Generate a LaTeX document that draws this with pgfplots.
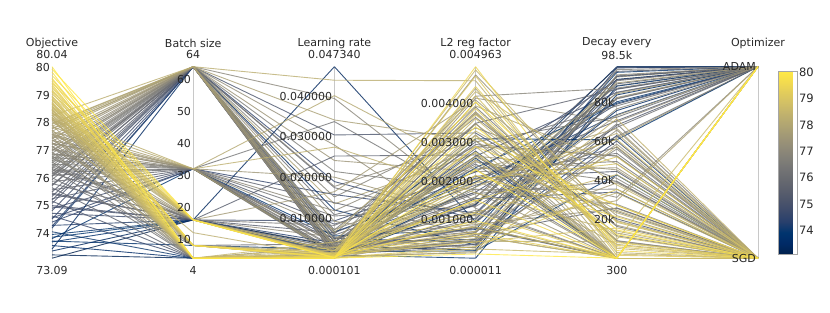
\documentclass[border=0pt]{standalone}
\usepackage{pgfplots}
\usepackage{pgfplotstable}
\pgfplotsset{compat=1.18}
\usepackage{fontspec}
\setmainfont{DejaVu Sans}

\pgfplotsset{colormap={cividis}{
 rgb255=(0,32,76) rgb255=(0,42,102) rgb255=(0,52,110) rgb255=(39,63,108)
 rgb255=(60,74,107) rgb255=(76,85,107) rgb255=(91,95,109) rgb255=(104,106,112)
 rgb255=(117,117,117) rgb255=(131,129,120) rgb255=(146,140,120) rgb255=(161,152,118)
 rgb255=(176,165,114) rgb255=(192,177,109) rgb255=(209,191,102) rgb255=(225,204,92)
 rgb255=(243,219,79) rgb255=(255,233,69)}}

\definecolor{txt}{RGB}{40,40,40}
\definecolor{axln}{RGB}{200,200,200}

% columns: objective, batch size, learning rate, L2 reg factor, decay every, optimizer (1 = ADAM, 0 = SGD)
\pgfplotstableread{
obj bs lr l2 dec opt
77.95 64 0.00240 0.00198 84600 1
77.88 64 0.01350 0.00272 300 0
77.78 64 0.00410 0.00112 61900 1
77.68 32 0.00095 0.00348 17200 0
77.57 32 0.00175 0.00066 93200 1
77.45 64 0.02420 0.00225 46700 0
77.36 32 0.00380 0.00172 300 0
77.26 32 0.00085 0.00415 70100 1
77.14 16 0.00530 0.00088 25800 0
77.01 64 0.01780 0.00305 300 0
76.88 32 0.00260 0.00142 88800 1
76.75 32 0.00145 0.00250 39800 0
76.62 64 0.00610 0.00375 9300 0
76.48 16 0.00330 0.00070 82300 1
76.35 16 0.00115 0.00215 300 0
76.21 32 0.01050 0.00135 67400 1
76.08 64 0.00410 0.00295 52600 0
75.75 64 0.00290 0.00158 98000 1
75.45 16 0.00640 0.00205 70800 1
75.20 64 0.00180 0.00080 300 0
74.95 16 0.00270 0.00265 85400 1
74.55 32 0.01580 0.00118 93500 1
74.25 64 0.00500 0.00042 63200 0
73.85 16 0.00145 0.00235 79800 1
73.09 16 0.00310 0.00022 92000 1
73.21 4 0.00082 0.00140 98500 1
73.35 16 0.04734 0.00095 76000 1
73.42 64 0.01200 0.00035 84000 1
73.55 4 0.00041 0.00260 300 0
73.68 16 0.00090 0.000011 88500 1
73.71 8 0.00230 0.00310 61000 1
73.80 32 0.00560 0.00075 95600 1
73.95 16 0.00170 0.00020 43000 0
74.05 4 0.00033 0.00185 80500 1
74.18 64 0.00660 0.00198 73900 1
74.28 16 0.00390 0.00050 97900 1
74.40 32 0.00135 0.00278 300 0
74.51 64 0.01900 0.00102 87100 1
74.62 4 0.00028 0.00155 34200 0
74.72 16 0.00930 0.00224 91700 1
74.81 64 0.00100 0.00038 60400 0
74.90 32 0.00480 0.00172 79300 1
75.00 16 0.00200 0.00082 300 1
75.08 64 0.03050 0.00325 20500 0
75.16 4 0.00071 0.00115 89700 1
75.25 32 0.00850 0.00208 44800 0
75.33 64 0.00150 0.00045 68500 1
75.41 16 0.02530 0.00268 300 0
75.49 64 0.00240 0.00138 96100 1
75.57 32 0.01380 0.00062 26100 0
75.65 4 0.00039 0.00350 86900 1
75.72 64 0.00580 0.00190 57200 0
75.80 16 0.00110 0.00030 93800 1
75.88 32 0.00420 0.00245 300 0
75.94 64 0.01750 0.00092 82000 1
76.01 8 0.00360 0.00168 39500 0
76.05 64 0.00087 0.00302 72600 1
76.10 32 0.00195 0.00078 300 0
76.14 64 0.01080 0.00212 54100 0
76.19 16 0.00140 0.00036 91300 1
76.23 64 0.00710 0.00365 16600 0
76.28 32 0.03380 0.00148 62700 1
76.32 4 0.00052 0.00285 78400 1
76.37 64 0.00310 0.00058 300 0
76.41 16 0.00820 0.00232 49900 0
76.46 64 0.00098 0.00105 85200 1
76.50 32 0.00290 0.00392 11800 0
76.55 64 0.02150 0.00178 35700 0
76.59 4 0.00115 0.00068 69200 0
76.63 32 0.00065 0.00255 24300 0
76.68 64 0.00520 0.00028 97000 1
76.72 16 0.00210 0.00125 300 1
76.77 64 0.01520 0.00338 41200 0
76.81 8 0.00085 0.00048 56300 0
76.86 32 0.00380 0.00420 87500 1
76.90 64 0.03950 0.00130 300 0
76.94 4 0.00025 0.00180 27900 0
76.98 64 0.00190 0.00098 76900 1
77.03 32 0.01180 0.00290 52800 0
77.07 16 0.00060 0.00015 94300 1
77.11 64 0.00340 0.00240 31500 1
77.16 4 0.00300 0.00380 9100 0
77.20 64 0.02800 0.00055 66000 0
77.24 32 0.00720 0.00205 300 0
77.29 8 0.00044 0.00475 19600 0
77.33 64 0.00120 0.00160 82700 1
77.38 16 0.00260 0.00320 300 0
77.42 64 0.00920 0.00040 58800 0
77.47 4 0.00078 0.00265 45600 0
77.51 32 0.02010 0.00110 73500 1
77.55 64 0.00450 0.00350 300 0
77.60 4 0.00014 0.00062 38900 0
77.65 16 0.01650 0.00410 22100 0
77.70 64 0.00280 0.00145 90200 1
77.74 8 0.00190 0.00228 66800 0
77.80 64 0.03420 0.00305 13200 0
77.85 32 0.00130 0.00085 29800 1
77.92 4 0.00055 0.00440 300 0
77.98 64 0.00650 0.00395 48600 0
78.05 16 0.00076 0.00045 8700 0
78.10 32 0.04020 0.00230 7400 0
78.12 8 0.00019 0.00378 300 0
78.14 4 0.00024 0.00018 57600 0
78.18 4 0.00210 0.00290 300 1
78.20 16 0.00105 0.00185 64300 0
78.22 8 0.00072 0.00052 33800 0
78.26 64 0.04400 0.00460 3200 0
78.28 12 0.00034 0.00262 23600 0
78.30 4 0.00048 0.00330 24900 0
78.34 32 0.02750 0.00170 14200 0
78.36 16 0.00052 0.00093 300 1
78.38 4 0.00011 0.00405 5300 0
78.42 4 0.00150 0.00071 71800 0
78.46 8 0.00029 0.00254 300 1
78.48 8 0.00140 0.00432 37900 0
78.50 4 0.00410 0.00120 43200 0
78.54 16 0.00095 0.00488 18700 0
78.58 4 0.00017 0.00025 2400 0
78.60 16 0.00023 0.00318 11300 0
78.63 4 0.00036 0.00362 9800 1
78.68 8 0.00058 0.00195 61200 0
78.70 16 0.00088 0.00058 300 0
78.72 4 0.00270 0.00082 300 0
78.76 4 0.00013 0.00312 27400 0
78.81 16 0.00190 0.00421 6100 0
78.84 8 0.00039 0.00205 48700 0
78.87 4 0.00080 0.00043 15800 0
78.92 8 0.00022 0.00276 300 1
78.95 16 0.00012 0.00372 19200 0
78.98 4 0.00120 0.00150 52300 0
79.05 16 0.00045 0.00472 1800 0
79.12 4 0.00018 0.00031 35600 0
79.15 16 0.00068 0.00118 300 1
79.21 4 0.00027 0.00388 8300 0
79.28 8 0.00016 0.00445 6900 0
79.33 8 0.00110 0.00065 300 1
79.40 4 0.00062 0.00215 21500 0
79.45 16 0.00026 0.00290 27300 0
79.51 4 0.00015 0.004963 4200 0
79.58 8 0.00042 0.00152 300 1
79.62 8 0.00035 0.00098 300 1
79.72 16 0.00031 0.00405 14800 0
79.85 4 0.00021 0.00341 12400 0
79.95 16 0.00019 0.00230 300 1
80.04 4 0.000101 0.00012 300 1
}\runs

\tikzset{lab/.style={font=\fontsize{11}{13}\selectfont, text=txt, inner sep=0pt}}

\begin{document}
\begin{tikzpicture}
\useasboundingbox (-52pt,-54pt) rectangle (778pt,258.2pt);
\begin{axis}[
  at={(0pt,0pt)}, anchor=south west,
  scale only axis, width=706pt, height=191.5pt,
  xmin=0, xmax=5, ymin=0, ymax=1,
  hide axis, clip=false,
  colormap name=cividis,
  point meta min=73.09, point meta max=80.04,
  colorbar,
  colorbar style={
    at={(parent axis.south east)}, anchor=south west,
    xshift=12pt, yshift=4pt,
    width=19pt, height=183pt,
    ytick={74,75,76,77,78,79,80},
    major tick length=0pt,
    axis line style={draw=gray!70},
    /pgf/number format/assume math mode=true,
    yticklabel style={font=\fontsize{11.5}{13}\selectfont, text=txt, xshift=-2pt},
  },
]
% vertical axis lines
\pgfplotsinvokeforeach{0,1,2,3,4,5}{
  \draw[axln, line width=0.8pt] (axis cs:#1,0) -- (axis cs:#1,1);
}
\pgfplotstablegetrowsof{\runs}
\pgfmathtruncatemacro\lastrow{\pgfplotsretval-1}
\pgfplotsforeachungrouped \i in {0,...,\lastrow}{
  \pgfplotstablegetelem{\i}{obj}\of\runs \let\vo\pgfplotsretval
  \pgfplotstablegetelem{\i}{bs}\of\runs \let\vb\pgfplotsretval
  \pgfplotstablegetelem{\i}{lr}\of\runs \let\vl\pgfplotsretval
  \pgfplotstablegetelem{\i}{l2}\of\runs \let\vr\pgfplotsretval
  \pgfplotstablegetelem{\i}{dec}\of\runs \let\vd\pgfplotsretval
  \pgfplotstablegetelem{\i}{opt}\of\runs \let\vp\pgfplotsretval
  \edef\next{\noexpand\addplot[mesh, point meta=\vo, line width=0.9pt, opacity=0.8, forget plot] coordinates {
    (0,\fpeval{round((\vo-73.09)/6.95,5)})
    (1,\fpeval{round((\vb-4)/60,5)})
    (2,\fpeval{round((\vl-0.000101)/0.047239,5)})
    (3,\fpeval{round((\vr-0.000011)/0.004952,5)})
    (4,\fpeval{round((\vd-300)/98200,5)})
    (5,\vp)};}
  \next
}
% titles and range labels
\node[lab] at (axis cs:0,1) [yshift=23.7pt] {Objective};
\node[lab] at (axis cs:0,1) [yshift=11.7pt] {80.04};
\node[lab] at (axis cs:0,0) [yshift=-12pt] {73.09};
\node[lab] at (axis cs:1,1) [yshift=23.7pt] {Batch size};
\node[lab] at (axis cs:1,1) [yshift=11.7pt] {64};
\node[lab] at (axis cs:1,0) [yshift=-12pt] {4};
\node[lab] at (axis cs:2,1) [yshift=23.7pt] {Learning rate};
\node[lab] at (axis cs:2,1) [yshift=11.7pt] {0.047340};
\node[lab] at (axis cs:2,0) [yshift=-12pt] {0.000101};
\node[lab] at (axis cs:3,1) [yshift=23.7pt] {L2 reg factor};
\node[lab] at (axis cs:3,1) [yshift=11.7pt] {0.004963};
\node[lab] at (axis cs:3,0) [yshift=-12pt] {0.000011};
\node[lab] at (axis cs:4,1) [yshift=23.7pt] {Decay every};
\node[lab] at (axis cs:4,1) [yshift=11.7pt] {98.5k};
\node[lab] at (axis cs:4,0) [yshift=-12pt] {300};
\node[lab] at (axis cs:5,1) [yshift=23.7pt] {Optimizer};
% tick labels
\pgfplotsinvokeforeach{74,75,76,77,78,79,80}{
  \node[lab, anchor=east] at (axis cs:0,{(#1-73.09)/6.95}) [xshift=-2pt] {#1};
}
\pgfplotsinvokeforeach{10,20,30,40,50,60}{
  \node[lab, anchor=east] at (axis cs:1,{(#1-4)/60}) [xshift=-2pt] {#1};
}
\pgfplotsinvokeforeach{1,2,3,4}{
  \node[lab, anchor=east] at (axis cs:2,{(#1*0.01-0.000101)/0.047239}) [xshift=-2pt] {0.0#10000};
  \node[lab, anchor=east] at (axis cs:3,{(#1*0.001-0.000011)/0.004952}) [xshift=-2pt] {0.00#1000};
}
\pgfplotsinvokeforeach{20,40,60,80}{
  \node[lab, anchor=east] at (axis cs:4,{(#1-0.3)/98.2}) [xshift=-2pt] {#1k};
}
\node[lab, anchor=east] at (axis cs:5,1) [xshift=-2pt] {ADAM};
\node[lab, anchor=east] at (axis cs:5,0) [xshift=-2pt] {SGD};
\end{axis}
\end{tikzpicture}
\end{document}
